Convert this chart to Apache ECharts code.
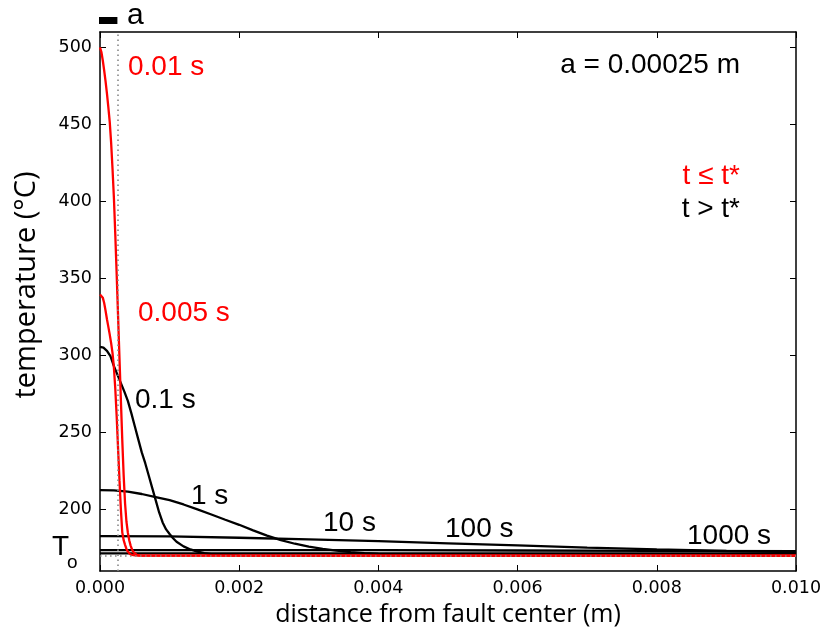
<!DOCTYPE html>
<html><head><meta charset="utf-8">
<script src="https://cdn.jsdelivr.net/npm/echarts@6/dist/echarts.min.js"></script>
<style>html,body{margin:0;padding:0;background:#fff}#c{width:828px;height:632px}</style>
</head><body><div id="c"></div>
<script>
// ---- data (x in m, temperature in °C) ----
const xTicks = [0, 0.002, 0.004, 0.006, 0.008, 0.010];
const yTicks = [200, 250, 300, 350, 400, 450, 500];
const T0 = 170;
const halfWidth = 0.00025;   // a = 0.00025 m

const t0005 = [[0,339.5],[0.00002,339],[0.00004,337.5],[0.00006,334],[0.00008,329],[0.0001,323.5],[0.00012,318.5],[0.00014,313.5],[0.00016,308],[0.00018,301.5],[0.0002,292],[0.00022,278],[0.00024,260],[0.00026,239],[0.00028,219],[0.0003,200],[0.00032,185],[0.00034,180],[0.00036,177],[0.00038,174.3],[0.0004,172.6],[0.00043,171.1],[0.00046,170.4],[0.0005,170.1],[0.00055,170],[0.01,170]];
const t001  = [[0,500],[0.00002,497],[0.00004,491.5],[0.00006,485],[0.00008,478],[0.0001,470],[0.00012,461],[0.00014,451.5],[0.00016,438],[0.00018,421],[0.0002,402],[0.00022,378],[0.00024,352],[0.00026,325],[0.00028,298],[0.0003,271],[0.00032,245],[0.00034,222],[0.00036,204],[0.00038,192],[0.0004,185],[0.00042,180],[0.00044,176.5],[0.00046,174],[0.00048,172.3],[0.0005,171.2],[0.00053,170.4],[0.00057,170.1],[0.0006,170],[0.01,170]];
const t01   = [[0,305.5],[0.00005,305],[0.0001,303],[0.00015,299.5],[0.0002,293],[0.00025,287.5],[0.0003,282],[0.00035,276.5],[0.0004,270.5],[0.00045,262.5],[0.0005,254],[0.00055,245.5],[0.0006,237],[0.00065,230],[0.0007,222],[0.00075,214],[0.0008,206],[0.00085,198],[0.0009,191.5],[0.00095,187],[0.001,184],[0.00105,181.3],[0.0011,179],[0.0012,176],[0.0013,174],[0.0014,172.6],[0.0015,171.6],[0.0016,171],[0.0018,170.4],[0.002,170.1],[0.0025,170],[0.01,170]];
const t1    = [[0,212.5],[0.0002,212.3],[0.0004,211.5],[0.0006,210],[0.0008,208],[0.001,206],[0.0012,203.2],[0.0014,200],[0.0016,196.7],[0.0018,193.3],[0.002,190],[0.0022,186.4],[0.0024,183],[0.0026,180],[0.0028,177.7],[0.003,175.8],[0.0032,174.3],[0.0034,173.2],[0.0036,172.3],[0.0038,171.6],[0.004,171.1],[0.0043,170.6],[0.0047,170.3],[0.0052,170.1],[0.006,170],[0.01,170]];
const t10   = [[0,182.7],[0.001,182.5],[0.002,181.6],[0.003,180.6],[0.004,179.4],[0.005,178],[0.006,176.6],[0.007,175.2],[0.008,174],[0.009,173],[0.01,172.2]];
const t100  = [[0,173.6],[0.002,173.6],[0.004,173.5],[0.006,173.3],[0.008,173.1],[0.01,172.9]];
const t1000 = [[0,171.4],[0.005,171.4],[0.01,171.4]];

const redCurves = [t0005, t001];
const blackCurves = [t01, t1, t10, t100, t1000];

const chart = echarts.init(document.getElementById('c'), null, {renderer: 'canvas'});

const tickFont = {fontFamily: '"DejaVu Sans", sans-serif', fontSize: 17.5, color: '#000'};
function makeX(pos, showLabel) {
  return {
    type: 'value', min: 0, max: 0.01, position: pos,
    axisLine: {show: true, onZero: false, lineStyle: {color: '#000', width: 1.5}},
    axisTick: {show: true, inside: true, length: 6, customValues: xTicks, lineStyle: {color: '#000', width: 1}},
    axisLabel: Object.assign({show: showLabel, customValues: xTicks, margin: 8, formatter: v => v.toFixed(3)}, tickFont),
    splitLine: {show: false},
    name: showLabel ? 'distance from fault center (m)' : '',
    nameLocation: 'middle', nameGap: 30,
    nameTextStyle: {fontFamily: '"Open Sans"', fontSize: 25, color: '#000'}
  };
}
function makeY(pos, showLabel) {
  return {
    type: 'value', min: 160, max: 510, position: pos,
    axisLine: {show: true, onZero: false, lineStyle: {color: '#000', width: 1.5}},
    axisTick: {show: true, inside: true, length: 6, customValues: yTicks, lineStyle: {color: '#000', width: 1}},
    axisLabel: Object.assign({show: showLabel, customValues: yTicks, margin: 8}, tickFont),
    splitLine: {show: false}
  };
}

const series = [];
blackCurves.forEach(d => series.push({type: 'line', data: d, symbol: 'none', showSymbol: false, lineStyle: {color: '#000', width: 2.3}, z: 2}));
redCurves.forEach(d => series.push({type: 'line', data: d, symbol: 'none', showSymbol: false, lineStyle: {color: '#ff0000', width: 2.3}, z: 3}));
series.push({
  type: 'line', data: [[0, T0], [0.01, T0]], z: 5, symbol: 'none', showSymbol: false,
  lineStyle: {opacity: 0},
  markLine: {
    silent: true, precision: 8, symbol: ['none', 'none'], label: {show: false},
    lineStyle: {color: '#888', width: 1.6, type: [1.6, 3.4]},
    data: [{xAxis: halfWidth}, {yAxis: T0}]
  }
});

chart.setOption({
  animation: false,
  backgroundColor: '#fff',
  grid: {left: 100, right: 32, top: 32, bottom: 61, containLabel: false},
  xAxis: [makeX('bottom', true), makeX('top', false)],
  yAxis: [makeY('left', true), makeY('right', false)],
  series: series
});

const px0 = chart.convertToPixel({xAxisIndex: 0}, 0);
const pxA = chart.convertToPixel({xAxisIndex: 0}, halfWidth);

const lab = (text, x, y, color, size, align) => ({
  type: 'text', x: x, y: y, z: 10,
  style: {text: text, fill: color, font: size + 'px "Liberation Sans", Arial, sans-serif',
          align: align || 'left', textAlign: align || 'left', verticalAlign: 'middle', textVerticalAlign: 'middle'}
});

chart.setOption({
  graphic: [
    {type: 'rect', shape: {x: px0 - 1, y: 17, width: pxA - px0 + 1, height: 7}, style: {fill: '#000'}},
    lab('a', 127, 16, '#000', 30),
    lab('0.01 s', 128, 67, '#ff0000', 28),
    lab('0.005 s', 138, 313, '#ff0000', 28),
    lab('0.1 s', 135, 400, '#000', 28),
    lab('1 s', 191, 496, '#000', 28),
    lab('10 s', 323, 523, '#000', 28),
    lab('100 s', 445, 529, '#000', 28),
    lab('1000 s', 687, 536, '#000', 28),
    lab('a = 0.00025 m', 740, 65, '#000', 28, 'right'),
    lab('t \u2264 t*', 740, 176, '#ff0000', 28, 'right'),
    lab('t > t*', 740, 209, '#000', 28, 'right'),
    lab('T', 52, 547, '#000', 28),
    lab('o', 67, 563, '#000', 19),
    {type: 'text', x: 27, y: 285, rotation: Math.PI / 2, z: 10,
     style: {text: 'temperature (\u00b0C)', fill: '#000', font: '29px "Open Sans"',
             align: 'center', textAlign: 'center', verticalAlign: 'middle', textVerticalAlign: 'middle'}}
  ]
});
</script>
</body></html>
